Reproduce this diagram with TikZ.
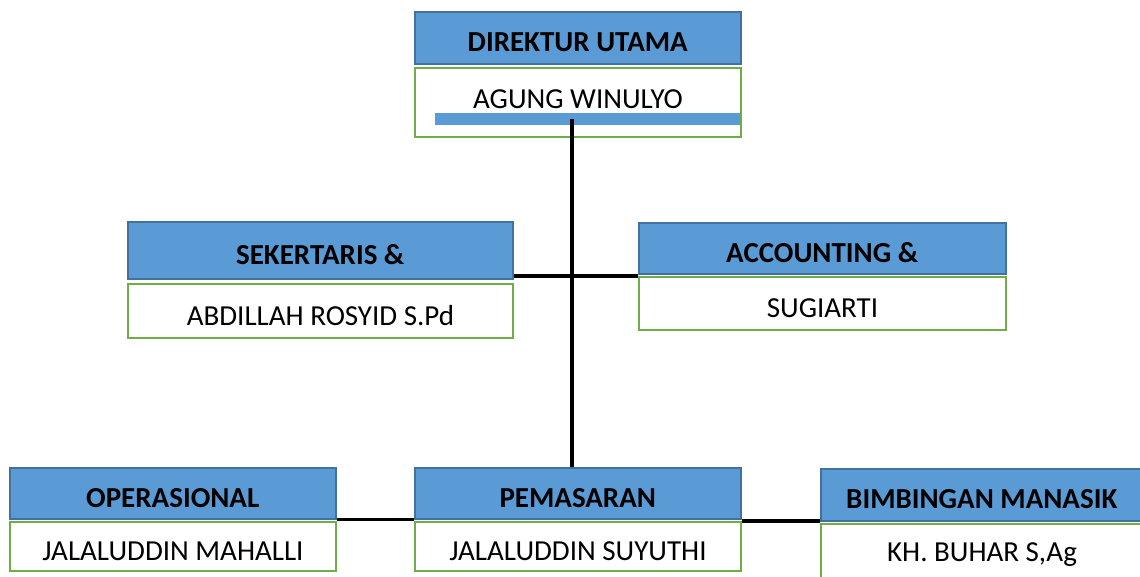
\documentclass[tikz,border=0pt]{standalone}
\usepackage{fontspec}
\setmainfont{Carlito}
\definecolor{hdrblue}{HTML}{5B9BD5}
\definecolor{hdrborder}{HTML}{41719C}
\definecolor{namegreen}{HTML}{70AD47}
\begin{document}
\begin{tikzpicture}[x=1pt,y=-1pt,
  hdr/.style={draw=hdrborder, fill=hdrblue, line width=1.5pt, anchor=north west,
    inner sep=0pt, text height=28pt, text depth=0pt,
    font=\bfseries\fontsize{29}{34}\selectfont},
  namebox/.style={draw=namegreen, fill=white, line width=2pt, anchor=north west,
    inner sep=0pt, text height=28pt, text depth=0pt,
    font=\fontsize{29}{34}\selectfont},
  link/.style={draw=black, line width=3.5pt}]
\useasboundingbox (0,0) rectangle (1140,576);
% Direktur
\node[hdr, minimum width=326pt, minimum height=52pt] (dirh) at (414,11) {DIREKTUR UTAMA};
\node[namebox, minimum width=326pt, minimum height=69pt, text height=19pt, text depth=8pt] (dirn) at (414,67) {AGUNG WINULYO};
\node[fill=hdrblue, anchor=north west, inner sep=0pt, minimum width=305pt, minimum height=12pt] (bar) at (435,113) {};
% Sekertaris
\node[hdr, minimum width=385pt, minimum height=57pt] (sekh) at (127,221) {SEKERTARIS \&};
\node[namebox, minimum width=385pt, minimum height=54pt] (sekn) at (127,283) {ABDILLAH ROSYID S.Pd};
% Accounting
\node[hdr, minimum width=367pt, minimum height=51pt] (acch) at (638,222) {ACCOUNTING \&};
\node[namebox, minimum width=367pt, minimum height=53pt] (accn) at (638,276) {SUGIARTI};
% Operasional
\node[hdr, minimum width=326pt, minimum height=51pt] (opsh) at (9,467) {OPERASIONAL};
\node[namebox, minimum width=326pt, minimum height=49pt] (opsn) at (9,521) {JALALUDDIN MAHALLI};
% Pemasaran
\node[hdr, minimum width=326pt, minimum height=51pt] (pemh) at (414,467) {PEMASARAN};
\node[namebox, minimum width=326pt, minimum height=49pt] (pemn) at (414,521) {JALALUDDIN SUYUTHI};
% Bimbingan
\node[hdr, minimum width=322pt, minimum height=52pt] (bimh) at (820,468) {BIMBINGAN MANASIK};
\node[namebox, minimum width=322pt, minimum height=60pt, text height=20pt, text depth=6pt] (bimn) at (820,523) {KH. BUHAR S,Ag};
% connectors
\coordinate (vtop) at (572,119);
\draw[link] (vtop) -- (vtop |- pemh.north);
\draw[link] (sekh.east |- accn.north west) -- (accn.north west);
\draw[link] (opsh.south east) -- (pemh.south west);
\draw[link] (pemn.north east) -- (pemn.north east -| bimh.west);
\end{tikzpicture}
\end{document}
